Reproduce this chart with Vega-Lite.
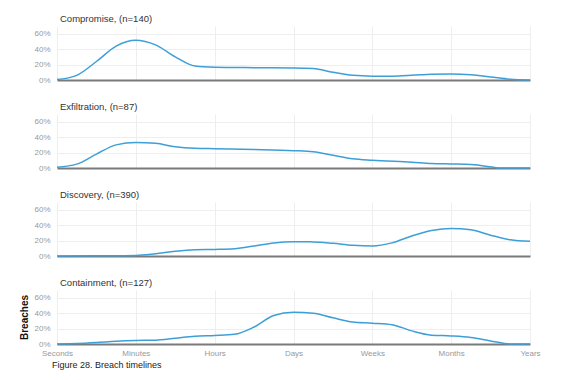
{
  "$schema": "https://vega.github.io/schema/vega-lite/v6.json",
  "padding": {"left": 19, "top": 13, "right": 10, "bottom": 5},
  "background": "white",
  "title": {"text": "Figure 28. Breach timelines", "orient": "bottom", "anchor": "start", "frame": "group", "fontSize": 9, "fontWeight": "normal", "color": "#222", "font": "Liberation Sans", "offset": 4, "dx": -5},
  "datasets": {
    "compromise": [
      {"t": 0, "v": 0.005}, {"t": 0.25, "v": 0.06}, {"t": 0.5, "v": 0.24}, {"t": 0.75, "v": 0.44}, {"t": 1.0, "v": 0.515},
      {"t": 1.25, "v": 0.455}, {"t": 1.5, "v": 0.30}, {"t": 1.75, "v": 0.18}, {"t": 2.0, "v": 0.165}, {"t": 2.5, "v": 0.16},
      {"t": 3.0, "v": 0.157}, {"t": 3.25, "v": 0.15}, {"t": 3.5, "v": 0.10}, {"t": 3.75, "v": 0.06}, {"t": 4.0, "v": 0.05},
      {"t": 4.25, "v": 0.05}, {"t": 4.5, "v": 0.06}, {"t": 4.75, "v": 0.075}, {"t": 5.0, "v": 0.078}, {"t": 5.25, "v": 0.068},
      {"t": 5.5, "v": 0.04}, {"t": 5.75, "v": 0.01}, {"t": 6.0, "v": 0.0}
    ],
    "exfiltration": [
      {"t": 0, "v": 0.01}, {"t": 0.25, "v": 0.05}, {"t": 0.5, "v": 0.18}, {"t": 0.75, "v": 0.30}, {"t": 1.0, "v": 0.33},
      {"t": 1.25, "v": 0.32}, {"t": 1.5, "v": 0.275}, {"t": 1.75, "v": 0.255}, {"t": 2.0, "v": 0.25}, {"t": 2.5, "v": 0.24},
      {"t": 3.0, "v": 0.225}, {"t": 3.25, "v": 0.21}, {"t": 3.5, "v": 0.165}, {"t": 3.75, "v": 0.12}, {"t": 4.0, "v": 0.10},
      {"t": 4.5, "v": 0.075}, {"t": 4.75, "v": 0.058}, {"t": 5.0, "v": 0.052}, {"t": 5.25, "v": 0.045}, {"t": 5.5, "v": 0.015},
      {"t": 5.6, "v": 0.0}, {"t": 6.0, "v": 0.0}
    ],
    "discovery": [
      {"t": 0, "v": 0.0}, {"t": 0.5, "v": 0.003}, {"t": 1.0, "v": 0.008}, {"t": 1.25, "v": 0.03}, {"t": 1.5, "v": 0.06},
      {"t": 1.75, "v": 0.08}, {"t": 2.0, "v": 0.085}, {"t": 2.25, "v": 0.095}, {"t": 2.5, "v": 0.13}, {"t": 2.75, "v": 0.17},
      {"t": 3.0, "v": 0.185}, {"t": 3.25, "v": 0.183}, {"t": 3.5, "v": 0.165}, {"t": 3.75, "v": 0.14}, {"t": 4.0, "v": 0.13},
      {"t": 4.25, "v": 0.17}, {"t": 4.5, "v": 0.26}, {"t": 4.75, "v": 0.33}, {"t": 5.0, "v": 0.358}, {"t": 5.25, "v": 0.34},
      {"t": 5.5, "v": 0.27}, {"t": 5.75, "v": 0.21}, {"t": 6.0, "v": 0.19}
    ],
    "containment": [
      {"t": 0, "v": 0.0}, {"t": 0.25, "v": 0.005}, {"t": 0.5, "v": 0.018}, {"t": 0.75, "v": 0.035}, {"t": 1.0, "v": 0.045},
      {"t": 1.25, "v": 0.05}, {"t": 1.5, "v": 0.075}, {"t": 1.75, "v": 0.10}, {"t": 2.0, "v": 0.11}, {"t": 2.25, "v": 0.125},
      {"t": 2.5, "v": 0.22}, {"t": 2.75, "v": 0.37}, {"t": 3.0, "v": 0.41}, {"t": 3.25, "v": 0.40}, {"t": 3.5, "v": 0.34},
      {"t": 3.75, "v": 0.285}, {"t": 4.0, "v": 0.27}, {"t": 4.25, "v": 0.25}, {"t": 4.5, "v": 0.17}, {"t": 4.75, "v": 0.115},
      {"t": 5.0, "v": 0.105}, {"t": 5.25, "v": 0.085}, {"t": 5.5, "v": 0.04}, {"t": 5.75, "v": 0.0}, {"t": 6.0, "v": 0.0}
    ]
  },
  "spacing": 17,
  "vconcat": [
    {
      "title": "Compromise, (n=140)",
      "width": 473, "height": 54,
      "data": {"name": "compromise"},
      "mark": {"type": "line", "interpolate": "monotone", "color": "#3d9fd8", "strokeWidth": 1.5},
      "encoding": {
        "x": {"field": "t", "type": "quantitative", "scale": {"domain": [0, 6], "nice": false, "zero": false},
              "axis": {"values": [0, 1, 2, 3, 4, 5, 6], "labels": false, "title": null}},
        "y": {"field": "v", "type": "quantitative", "scale": {"domain": [0, 0.7], "nice": false},
              "axis": {"values": [0, 0.2, 0.4, 0.6], "format": ".0%", "title": null}}
      }
    },
    {
      "title": "Exfiltration, (n=87)",
      "width": 473, "height": 54,
      "data": {"name": "exfiltration"},
      "mark": {"type": "line", "interpolate": "monotone", "color": "#3d9fd8", "strokeWidth": 1.5},
      "encoding": {
        "x": {"field": "t", "type": "quantitative", "scale": {"domain": [0, 6], "nice": false, "zero": false},
              "axis": {"values": [0, 1, 2, 3, 4, 5, 6], "labels": false, "title": null}},
        "y": {"field": "v", "type": "quantitative", "scale": {"domain": [0, 0.7], "nice": false},
              "axis": {"values": [0, 0.2, 0.4, 0.6], "format": ".0%", "title": null}}
      }
    },
    {
      "title": "Discovery, (n=390)",
      "width": 473, "height": 54,
      "data": {"name": "discovery"},
      "mark": {"type": "line", "interpolate": "monotone", "color": "#3d9fd8", "strokeWidth": 1.5},
      "encoding": {
        "x": {"field": "t", "type": "quantitative", "scale": {"domain": [0, 6], "nice": false, "zero": false},
              "axis": {"values": [0, 1, 2, 3, 4, 5, 6], "labels": false, "title": null}},
        "y": {"field": "v", "type": "quantitative", "scale": {"domain": [0, 0.7], "nice": false},
              "axis": {"values": [0, 0.2, 0.4, 0.6], "format": ".0%", "title": null}}
      }
    },
    {
      "title": "Containment, (n=127)",
      "width": 473, "height": 54,
      "data": {"name": "containment"},
      "mark": {"type": "line", "interpolate": "monotone", "color": "#3d9fd8", "strokeWidth": 1.5},
      "encoding": {
        "x": {"field": "t", "type": "quantitative", "scale": {"domain": [0, 6], "nice": false, "zero": false},
              "axis": {"values": [0, 1, 2, 3, 4, 5, 6], "labels": true, "title": null, "labelFlush": false,
                       "labelExpr": "['Seconds','Minutes','Hours','Days','Weeks','Months','Years'][datum.value]"}},
        "y": {"field": "v", "type": "quantitative", "scale": {"domain": [0, 0.7], "nice": false},
              "axis": {"values": [0, 0.2, 0.4, 0.6], "format": ".0%", "title": "Breaches"}}
      }
    }
  ],
  "config": {
    "font": "Liberation Sans",
    "view": {"stroke": null},
    "title": {"anchor": "start", "frame": "group", "fontSize": 9.5, "fontWeight": "normal", "color": "#333", "offset": 3, "dx": 3},
    "axisX": {"ticks": false, "domainColor": "#7a7a7a", "domainWidth": 2, "gridColor": "#eeeeee", "gridWidth": 1,
              "labelColor": "#999", "labelFontSize": 8, "labelPadding": 5},
    "axisY": {"ticks": false, "domain": false, "gridColor": "#eeeeee", "gridWidth": 1,
              "labelColor": "#999", "labelFontSize": 8, "labelPadding": 7,
              "titleColor": "#111", "titleFontSize": 10, "titleFontWeight": "bold", "titlePadding": 4}
  }
}
